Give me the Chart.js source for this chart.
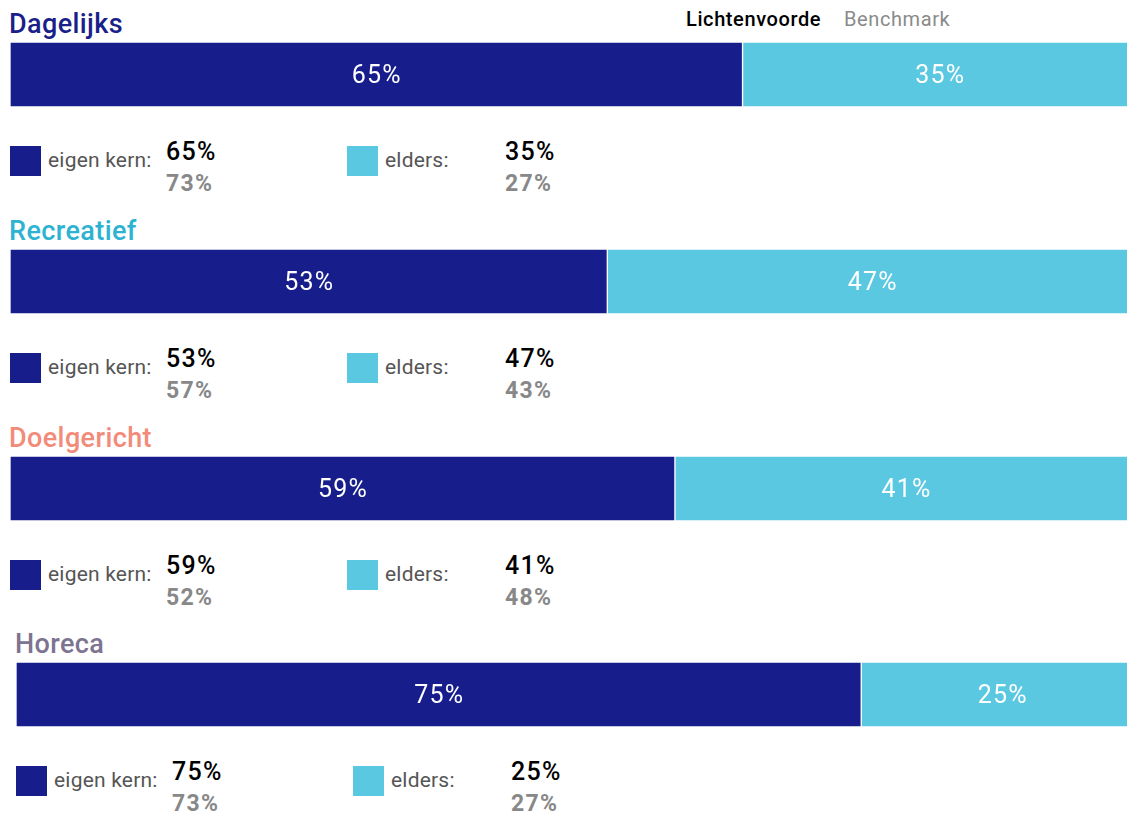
<!DOCTYPE html>
<html>
<head>
<meta charset="utf-8">
<script src="https://cdn.jsdelivr.net/npm/chart.js@4.4.0/dist/chart.umd.min.js"></script>
<style>
  body { margin: 0; width: 1127px; height: 813px; overflow: hidden; background: #fff; position: relative; font-family: Roboto, sans-serif; }
  .t { position: absolute; line-height: 1; white-space: nowrap; }
  .sq { position: absolute; width: 31px; height: 30px; }
  canvas { position: absolute; }
</style>
</head>
<body>
<script>
// data
const categories = ['Dagelijks', 'Recreatief', 'Doelgericht', 'Horeca'];
const eigenKern = [65, 53, 59, 75];
const elders = [35, 47, 41, 25];
const benchEigenKern = [73, 57, 52, 73];
const benchElders = [27, 43, 48, 27];
const seriesLabels = ['eigen kern:', 'elders:'];
const legendLabels = ['Lichtenvoorde', 'Benchmark'];

// styles / layout
const darkBlue = '#171e8b';
const lightBlue = '#5bc8e2';
const titleColors = ['#1a1f8a', '#2db3d1', '#f28b79', '#7c7490'];
const barTops = [42, 249, 456, 662];
const sectionLeft = [10, 10, 10, 16];

//------------------------------------------

// text helper, positioned by baseline
function txt(text, x, baseline, size, weight, color, spacing) {
  const d = document.createElement('div');
  d.className = 't';
  d.textContent = text;
  d.style.left = x + 'px';
  d.style.top = (baseline - 0.842 * size) + 'px';
  d.style.fontSize = size + 'px';
  d.style.fontWeight = weight;
  d.style.color = color;
  d.style.letterSpacing = (spacing || 0) + 'px';
  document.body.appendChild(d);
}

function square(x, y, color) {
  const d = document.createElement('div');
  d.className = 'sq';
  d.style.left = x + 'px';
  d.style.top = y + 'px';
  d.style.background = color;
  document.body.appendChild(d);
}

//------------------------------------------

// value labels inside the bars
const barLabels = {
  id: 'barLabels',
  afterDatasetsDraw(chart) {
    const {ctx} = chart;
    ctx.save();
    ctx.font = '25px Roboto';
    if ('letterSpacing' in ctx) ctx.letterSpacing = '1.2px';
    ctx.fillStyle = '#fff';
    ctx.textAlign = 'center';
    ctx.textBaseline = 'alphabetic';
    chart.data.datasets.forEach((ds, i) => {
      chart.getDatasetMeta(i).data.forEach((bar, j) => {
        const p = bar.getProps(['x', 'y', 'base'], true);
        ctx.fillText(ds.data[j] + '%', (p.x + p.base) / 2 + 0.6, p.y + 8.8);
      });
    });
    ctx.restore();
  }
};

//------------------------------------------

// top legend
txt(legendLabels[0], 686, 26, 20, 500, '#000', 0.6);
txt(legendLabels[1], 844, 26, 20, 400, '#8a8a8a', 0.6);

categories.forEach((cat, i) => {
  const x0 = sectionLeft[i];
  const top = barTops[i];

  txt(cat, x0 - 1, top - 8.5, 27, 500, titleColors[i], 0.4);

  const cv = document.createElement('canvas');
  cv.width = 1127;
  cv.height = 65;
  cv.style.left = x0 + 'px';
  cv.style.top = top + 'px';
  document.body.appendChild(cv);

  new Chart(cv, {
    type: 'bar',
    data: {
      labels: [cat],
      datasets: [
        {label: seriesLabels[0], data: [eigenKern[i]], backgroundColor: darkBlue, borderColor: '#fff', borderWidth: 1, borderSkipped: false},
        {label: seriesLabels[1], data: [elders[i]], backgroundColor: lightBlue, borderColor: '#fff', borderWidth: 1, borderSkipped: false}
      ]
    },
    options: {
      indexAxis: 'y',
      responsive: false,
      animation: false,
      barPercentage: 1,
      categoryPercentage: 1,
      layout: {padding: 0},
      scales: {
        x: {stacked: true, min: 0, max: 100, display: false},
        y: {stacked: true, display: false}
      },
      plugins: {legend: {display: false}, tooltip: {enabled: false}}
    },
    plugins: [barLabels]
  });

  // legend row under the bar
  square(x0, top + 104, darkBlue);
  txt(seriesLabels[0], x0 + 38, top + 125.3, 21, 400, '#555', 0.2);
  txt(eigenKern[i] + '%', x0 + 156, top + 118, 25, 500, '#000', 1.3);
  txt(benchEigenKern[i] + '%', x0 + 156, top + 149, 23, 700, '#888', 1.3);

  square(x0 + 337, top + 104, lightBlue);
  txt(seriesLabels[1], x0 + 375, top + 125.3, 21, 400, '#555', 0.2);
  txt(elders[i] + '%', x0 + 495, top + 118, 25, 500, '#000', 1.3);
  txt(benchElders[i] + '%', x0 + 495, top + 149, 23, 700, '#888', 1.3);
});
</script>
</body>
</html>
